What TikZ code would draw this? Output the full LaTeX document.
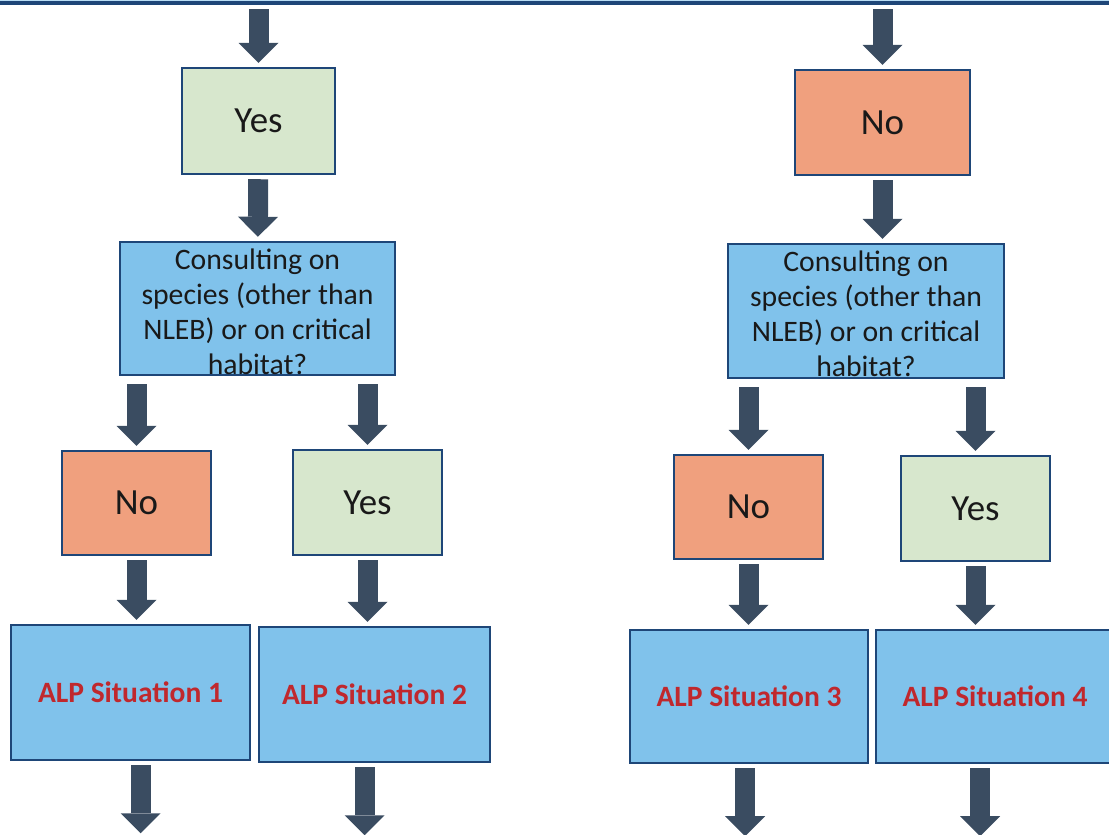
\documentclass[tikz,border=0pt]{standalone}
\usepackage{fontspec}
\setmainfont{Carlito}
\usetikzlibrary{arrows.meta,positioning,calc}

\definecolor{yesgreen}{RGB}{215,231,205}
\definecolor{nored}{RGB}{240,160,126}
\definecolor{boxblue}{RGB}{128,194,235}
\definecolor{edgeblue}{RGB}{30,70,120}
\definecolor{arrowgray}{RGB}{58,76,97}
\definecolor{alpred}{RGB}{192,40,45}

\tikzset{
    box/.style={draw=edgeblue, line width=0.7pt, inner sep=0pt, font=\fontsize{10.5}{12}\selectfont, text=black!90},
    yesbox/.style={box, fill=yesgreen},
    nobox/.style={box, fill=nored},
    questbox/.style={box, fill=boxblue},
    alpbox/.style={box, fill=boxblue, text=alpred, font=\fontsize{8.4}{10}\selectfont\bfseries},
    questtext/.style={inner sep=0pt, align=center, text=black!90, font=\fontsize{8.45}{10.04}\selectfont},
    blk/.style={line width=0.2cm, draw=arrowgray,
        -{Triangle[width=0.4cm,length=0.2cm,line width=0pt]},
        shorten <=0.04cm, shorten >=0.04cm}
}

\begin{document}
\begin{tikzpicture}
    \useasboundingbox (0,0) rectangle (11.09,-8.34);

    % the box cut off at the top
    \node[draw=edgeblue, line width=1.1pt, fill=boxblue!55, minimum width=11.4cm, minimum height=0.4cm, anchor=south] (bar) at (5.545,-0.05) {};

    % left branch
    \node[yesbox, minimum width=1.53cm, minimum height=1.06cm] (yes0) at (2.585,-1.21) {Yes};
    \node[questbox, minimum width=2.75cm, minimum height=1.33cm] (cons1) at (2.575,-3.085) {};
    \node[questtext, below=0.07cm of cons1.north] (q1) {Consulting on\\species (other than\\NLEB) or on critical\\habitat?};
    \node[nobox, minimum width=1.49cm, minimum height=1.04cm] (no1) at (1.365,-5.03) {No};
    \node[yesbox, minimum width=1.49cm, minimum height=1.05cm] (yes1) at (3.675,-5.025) {Yes};
    \node[alpbox, minimum width=2.39cm, minimum height=1.35cm] (alp1) at (1.305,-6.925) {ALP Situation 1};
    \node[alpbox, minimum width=2.31cm, minimum height=1.35cm] (alp2) at (3.745,-6.945) {ALP Situation 2};

    % right branch
    \node[nobox, minimum width=1.75cm, minimum height=1.05cm] (no0) at (8.825,-1.225) {No};
    \node[questbox, minimum width=2.76cm, minimum height=1.34cm] (cons2) at (8.66,-3.11) {};
    \node[questtext, below=0.07cm of cons2.north] (q2) {Consulting on\\species (other than\\NLEB) or on critical\\habitat?};
    \node[nobox, minimum width=1.49cm, minimum height=1.04cm] (no2) at (7.485,-5.07) {No};
    \node[yesbox, minimum width=1.49cm, minimum height=1.05cm] (yes2) at (9.755,-5.085) {Yes};
    \node[alpbox, minimum width=2.38cm, minimum height=1.33cm] (alp3) at (7.49,-6.965) {ALP Situation 3};
    \node[alpbox, minimum width=2.38cm, minimum height=1.33cm] (alp4) at (9.95,-6.965) {ALP Situation 4};

    % loose ends at the bottom
    \coordinate (e1) at ($(alp1.south)+(0.1,-0.72)$);
    \coordinate (e2) at ($(alp2.south)+(-0.1,-0.72)$);
    \coordinate (e3) at ($(alp3.south)+(-0.04,-0.72)$);
    \coordinate (e4) at ($(alp4.south)+(-0.15,-0.72)$);

    % arrows
    \draw[blk] (bar.south -| yes0) -- (yes0.north);
    \draw[blk] (yes0) -- (cons1);
    \draw[blk, shorten <=0.08cm] (cons1.south -| no1) -- (no1.north);
    \draw[blk, shorten <=0.08cm] (cons1.south -| yes1) -- (yes1.north);
    \draw[blk] (no1) -- (no1.south |- alp1.north);
    \draw[blk] (yes1) -- (yes1.south |- alp2.north);
    \draw[blk, shorten >=0pt] (e1 |- alp1.south) -- (e1);
    \draw[blk, shorten >=0pt] (e2 |- alp2.south) -- (e2);

    \draw[blk] (bar.south -| no0) -- (no0.north);
    \draw[blk] (no0) -- (no0.south |- cons2.north);
    \draw[blk, shorten <=0.08cm] (cons2.south -| no2) -- (no2.north);
    \draw[blk, shorten <=0.08cm] (cons2.south -| yes2) -- (yes2.north);
    \draw[blk] (no2) -- (no2.south |- alp3.north);
    \draw[blk] (yes2) -- (yes2.south |- alp4.north);
    \draw[blk, shorten >=0pt] (e3 |- alp3.south) -- (e3);
    \draw[blk, shorten >=0pt] (e4 |- alp4.south) -- (e4);
\end{tikzpicture}
\end{document}
